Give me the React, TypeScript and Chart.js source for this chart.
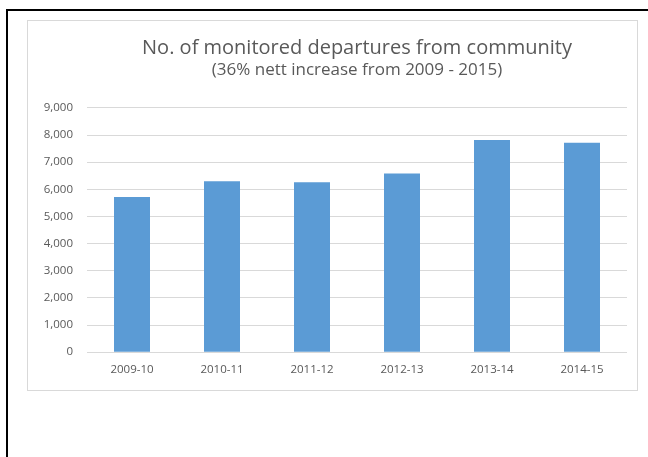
import React, { useEffect, useRef } from "react";
import { Chart, registerables } from "chart.js";

Chart.register(...registerables);

const categories: string[] = ["2009-10", "2010-11", "2011-12", "2012-13", "2013-14", "2014-15"];
const departures: number[] = [5720, 6300, 6260, 6580, 7820, 7720];
const titleText = "No. of monitored departures from community";
const subtitleText = "(36% nett increase from 2009 - 2015)";
const yMax = 9000;
const yStep = 1000;

const FONT = "'Open Sans', sans-serif";
const TEXT = "#595959";
const GRID = "#d9d9d9";
const BAR = "#5b9bd5";

export default function App() {
  const ref = useRef<HTMLCanvasElement | null>(null);

  useEffect(() => {
    if (!ref.current) return;
    const chart = new Chart(ref.current, {
      type: "bar",
      data: {
        labels: categories,
        datasets: [
          {
            data: departures,
            backgroundColor: BAR,
            borderWidth: 0,
            categoryPercentage: 1,
            barPercentage: 0.4,
          },
        ],
      },
      options: {
        animation: false,
        responsive: false,
        maintainAspectRatio: false,
        layout: { padding: { left: 0, right: 10, top: 0, bottom: 2 } },
        plugins: {
          legend: { display: false },
          tooltip: { enabled: false },
          title: {
            display: true,
            text: titleText,
            color: TEXT,
            fullSize: false,
            font: { family: FONT, size: 20, weight: "normal" },
            padding: { top: 15, bottom: 0 },
          },
          subtitle: {
            display: true,
            text: subtitleText,
            color: TEXT,
            fullSize: false,
            font: { family: FONT, size: 17, weight: "normal" },
            padding: { top: 0, bottom: 27.5 },
          },
        },
        scales: {
          x: {
            grid: { display: false, drawTicks: false },
            border: { display: false },
            ticks: {
              color: TEXT,
              font: { family: FONT, size: 11.5 },
              padding: 11,
              maxRotation: 0,
            },
          },
          y: {
            min: 0,
            max: yMax,
            grid: { color: GRID, lineWidth: 1, drawTicks: false },
            border: { display: false },
            afterFit: (scale: any) => {
              scale.width = 59;
            },
            ticks: {
              stepSize: yStep,
              color: TEXT,
              font: { family: FONT, size: 11.5 },
              padding: 14,
              callback: (v: any) => Number(v).toLocaleString("en-US"),
            },
          },
        },
      },
    });
    return () => chart.destroy();
  }, []);

  return (
    <div
      style={{
        position: "fixed",
        left: 0,
        top: 0,
        width: 648,
        height: 457,
        overflow: "hidden",
        background: "#fff",
      }}
    >
      <div
        style={{
          position: "absolute",
          left: 6,
          top: 9,
          width: 700,
          height: 500,
          borderLeft: "2px solid #000",
          borderTop: "2px solid #000",
        }}
      />
      <div
        style={{
          position: "absolute",
          left: 27,
          top: 20,
          width: 609,
          height: 369,
          border: `1px solid ${GRID}`,
          background: "#fff",
        }}
      >
        <canvas ref={ref} width={609} height={369} style={{ display: "block", width: 609, height: 369 }} />
      </div>
    </div>
  );
}
